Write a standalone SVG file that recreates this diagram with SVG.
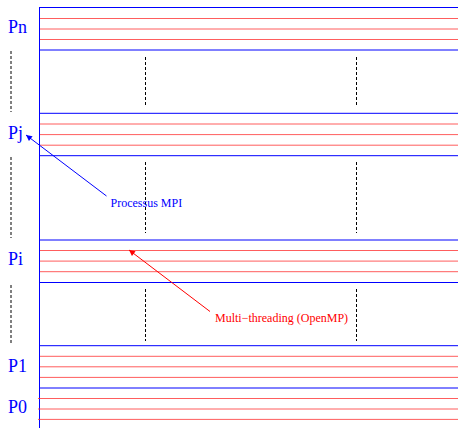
<svg xmlns="http://www.w3.org/2000/svg" width="458" height="428" viewBox="0 0 458 428">
<style>
.bl{stroke:#0000ff;stroke-width:1;fill:none}
.rd{stroke:#ff3333;stroke-width:0.8;fill:none}
.dash{stroke:#000;stroke-width:1;stroke-dasharray:3,2;fill:none}
.lbl{font-family:"Liberation Serif","Times New Roman",serif;font-size:18px;fill:#0000ff}
.ann{font-family:"Liberation Serif","Times New Roman",serif;font-size:12px}
</style>
<defs>
<marker id="ab" viewBox="0 0 10 10" refX="10" refY="5" markerWidth="9" markerHeight="6" markerUnits="userSpaceOnUse" orient="auto"><path d="M0,0 L10,5 L0,10 z" fill="#0000ff"/></marker>
<marker id="ar" viewBox="0 0 10 10" refX="10" refY="5" markerWidth="9" markerHeight="6" markerUnits="userSpaceOnUse" orient="auto"><path d="M0,0 L10,5 L0,10 z" fill="#ff0000"/></marker>
</defs>
<rect width="458" height="428" fill="#fff"/>
<line class="bl" x1="39.5" y1="7" x2="39.5" y2="428"/>
<g id="Pn">
<line class="bl" x1="39" y1="7.5" x2="458" y2="7.5" stroke-width="1.2"/>
<line class="rd" x1="40" y1="18.5" x2="458" y2="18.5"/>
<line class="rd" x1="40" y1="29" x2="458" y2="29"/>
<line class="rd" x1="40" y1="39.5" x2="458" y2="39.5"/>
<line class="bl" x1="39.5" y1="50" x2="458" y2="50"/>
<text class="lbl" x="8" y="33.3">Pn</text>
</g>
<g id="Pj">
<line class="bl" x1="39.5" y1="113.3" x2="458" y2="113.3"/>
<line class="rd" x1="40" y1="124" x2="458" y2="124"/>
<line class="rd" x1="40" y1="134.6" x2="458" y2="134.6"/>
<line class="rd" x1="40" y1="145.2" x2="458" y2="145.2"/>
<line class="bl" x1="39.5" y1="155.7" x2="458" y2="155.7"/>
<text class="lbl" x="8" y="139">Pj</text>
</g>
<g id="Pi">
<line class="bl" x1="39.5" y1="240" x2="458" y2="240"/>
<line class="rd" x1="40" y1="250.5" x2="458" y2="250.5"/>
<line class="rd" x1="40" y1="261.1" x2="458" y2="261.1"/>
<line class="rd" x1="40" y1="271.7" x2="458" y2="271.7"/>
<line class="bl" x1="39.5" y1="282.5" x2="458" y2="282.5"/>
<text class="lbl" x="8" y="265">Pi</text>
</g>
<g id="P1">
<line class="bl" x1="39.5" y1="345.7" x2="458" y2="345.7"/>
<line class="rd" x1="40" y1="356.3" x2="458" y2="356.3"/>
<line class="rd" x1="40" y1="366.8" x2="458" y2="366.8"/>
<line class="rd" x1="40" y1="377.4" x2="458" y2="377.4"/>
<text class="lbl" x="8" y="371.6">P1</text>
</g>
<g id="P0">
<line class="bl" x1="39.5" y1="388" x2="458" y2="388"/>
<line class="rd" x1="38" y1="398.5" x2="458" y2="398.5"/>
<line class="rd" x1="38" y1="409" x2="458" y2="409"/>
<line class="rd" x1="38" y1="419.4" x2="458" y2="419.4"/>
<text class="lbl" x="8" y="413.3">P0</text>
</g>
<g id="separators">
<line class="dash" x1="11" y1="51" x2="11" y2="112"/>
<line class="dash" x1="11" y1="157" x2="11" y2="238"/>
<line class="dash" x1="11" y1="285" x2="11" y2="345"/>
<line class="dash" x1="145.5" y1="57" x2="145.5" y2="107"/>
<line class="dash" x1="356.5" y1="57" x2="356.5" y2="107"/>
<line class="dash" x1="145.5" y1="162" x2="145.5" y2="233"/>
<line class="dash" x1="356.5" y1="162" x2="356.5" y2="233"/>
<line class="dash" x1="145.5" y1="289" x2="145.5" y2="341"/>
<line class="dash" x1="356.5" y1="289" x2="356.5" y2="341"/>
</g>
<g id="connectors">
<line x1="106.5" y1="196" x2="26" y2="135" stroke="#0000ff" stroke-width="1" marker-end="url(#ab)"/>
<line x1="210" y1="311.5" x2="129" y2="250" stroke="#ff0000" stroke-width="1" marker-end="url(#ar)"/>
</g>
<g id="labels">
<text class="ann" x="110.5" y="207.3" fill="#0000ff">Processus MPI</text>
<text class="ann" x="215" y="322.3" fill="#ff0000">Multi−threading (OpenMP)</text>
</g>
</svg>
